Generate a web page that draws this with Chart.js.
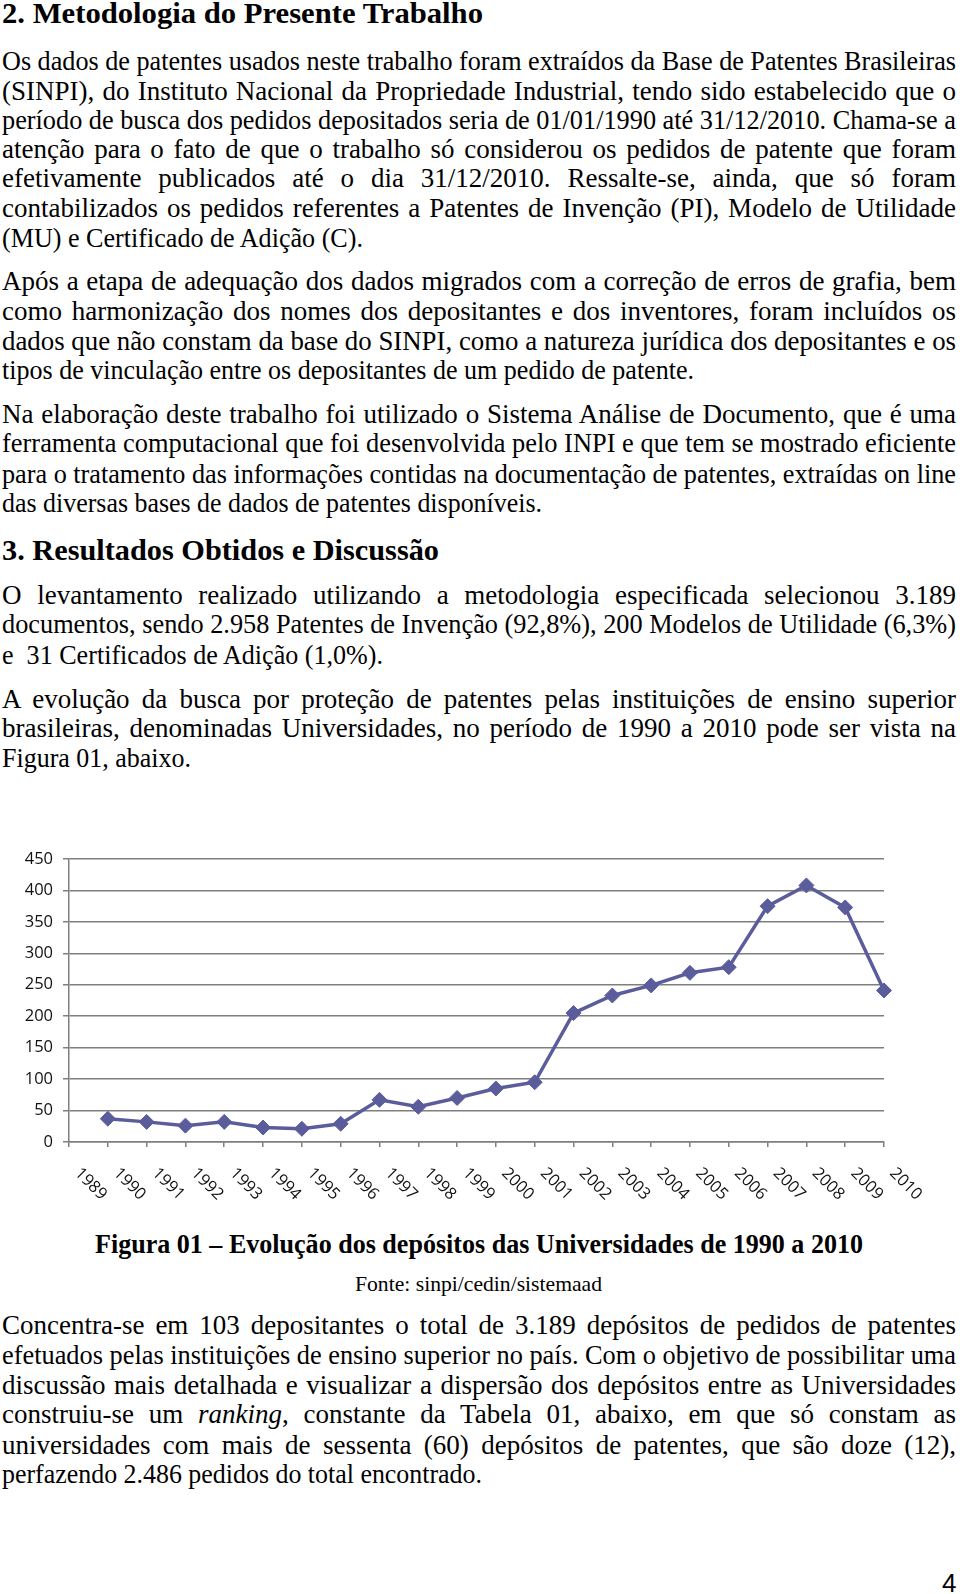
<!DOCTYPE html>
<html>
<head>
<meta charset="utf-8">
<script src="https://cdn.jsdelivr.net/npm/chart.js@4/dist/chart.umd.min.js"></script>
<style>
  html, body { margin: 0; padding: 0; background: #fff; }
  body { position: relative; width: 960px; height: 1594px; overflow: hidden; color: #000; }
  .ln { position: absolute; left: 2px; white-space: nowrap; font-family: "Liberation Serif", "Times New Roman", serif;
        font-size: 27px; line-height: 30px; transform-origin: left top; }
  .j { text-align: justify; text-align-last: justify; }
  .b { font-weight: bold; }
  .h { font-size: 30px; font-weight: bold; }
  .small { font-size: 21px; }
  #pg { position: absolute; left: 942px; top: 1570px; font: 26px/26px "Liberation Sans", Arial, sans-serif; }
  #chartBox { position: absolute; left: 0; top: 830px; width: 960px; height: 390px; }
</style>
</head>
<body>

<div class="ln h" data-y="16" data-w="481">2. Metodologia do Presente Trabalho</div>

<div class="ln j" data-y="64" data-w="954">Os dados de patentes usados neste trabalho foram extraídos da Base de Patentes Brasileiras</div>
<div class="ln j" data-y="94" data-w="954">(SINPI), do Instituto Nacional da Propriedade Industrial, tendo sido estabelecido que o</div>
<div class="ln j" data-y="123" data-w="954">período de busca dos pedidos depositados seria de 01/01/1990 até 31/12/2010. Chama-se a</div>
<div class="ln j" data-y="152" data-w="954">atenção para o fato de que o trabalho só considerou os pedidos de patente que foram</div>
<div class="ln j" data-y="181" data-w="954">efetivamente publicados até o dia 31/12/2010. Ressalte-se, ainda, que só foram</div>
<div class="ln j" data-y="211" data-w="954">contabilizados os pedidos referentes a Patentes de Invenção (PI), Modelo de Utilidade</div>
<div class="ln" data-y="241" data-w="361">(MU) e Certificado de Adição (C).</div>

<div class="ln j" data-y="284" data-w="954">Após a etapa de adequação dos dados migrados com a correção de erros de grafia, bem</div>
<div class="ln j" data-y="314" data-w="954">como harmonização dos nomes dos depositantes e dos inventores, foram incluídos os</div>
<div class="ln j" data-y="344" data-w="954">dados que não constam da base do SINPI, como a natureza jurídica dos depositantes e os</div>
<div class="ln" data-y="373" data-w="692">tipos de vinculação entre os depositantes de um pedido de patente.</div>

<div class="ln j" data-y="417" data-w="954">Na elaboração deste trabalho foi utilizado o Sistema Análise de Documento, que é uma</div>
<div class="ln j" data-y="446" data-w="954">ferramenta computacional que foi desenvolvida pelo INPI e que tem se mostrado eficiente</div>
<div class="ln j" data-y="477" data-w="954">para o tratamento das informações contidas na documentação de patentes, extraídas on line</div>
<div class="ln" data-y="506" data-w="540">das diversas bases de dados de patentes disponíveis.</div>

<div class="ln h" data-y="553" data-w="437">3. Resultados Obtidos e Discussão</div>

<div class="ln j" data-y="598" data-w="954">O levantamento realizado utilizando a metodologia especificada selecionou 3.189</div>
<div class="ln j" data-y="627" data-w="954">documentos, sendo 2.958 Patentes de Invenção (92,8%), 200 Modelos de Utilidade (6,3%)</div>
<div class="ln" data-y="658" data-w="381">e&nbsp; 31 Certificados de Adição (1,0%).</div>

<div class="ln j" data-y="702" data-w="954">A evolução da busca por proteção de patentes pelas instituições de ensino superior</div>
<div class="ln j" data-y="731" data-w="954">brasileiras, denominadas Universidades, no período de 1990 a 2010 pode ser vista na</div>
<div class="ln" data-y="761" data-w="189">Figura 01, abaixo.</div>

<div id="chartBox"><canvas id="evolucao" width="960" height="390"></canvas></div>

<div class="ln b" data-y="1247" data-x="95" data-w="768">Figura 01 – Evolução dos depósitos das Universidades de 1990 a 2010</div>
<div class="ln small" data-y="1286" data-x="355" data-w="247">Fonte: sinpi/cedin/sistemaad</div>

<div class="ln j" data-y="1328" data-w="954">Concentra-se em 103 depositantes o total de 3.189 depósitos de pedidos de patentes</div>
<div class="ln j" data-y="1358" data-w="954">efetuados pelas instituições de ensino superior no país. Com o objetivo de possibilitar uma</div>
<div class="ln j" data-y="1388" data-w="954">discussão mais detalhada e visualizar a dispersão dos depósitos entre as Universidades</div>
<div class="ln j" data-y="1417" data-w="954">construiu-se um <i>ranking</i>, constante da Tabela 01, abaixo, em que só constam as</div>
<div class="ln j" data-y="1448" data-w="954">universidades com mais de sessenta (60) depósitos de patentes, que são doze (12),</div>
<div class="ln" data-y="1477" data-w="480">perfazendo 2.486 pedidos do total encontrado.</div>

<div id="pg">4</div>

<script>
const anos = ['1989', '1990', '1991', '1992', '1993', '1994', '1995', '1996', '1997', '1998', '1999',
              '2000', '2001', '2002', '2003', '2004', '2005', '2006', '2007', '2008', '2009', '2010'];
const depositos = [null, 37, 32, 26, 32, 23, 21, 29, 67, 56, 70,
                   85, 95, 205, 233, 249, 269, 278, 375, 408, 373, 241];
const yMax = 450;
const yPasso = 50;

const corLinha = '#5b5c9b';
const corGrade = '#7f7f7f';

// ajusta cada linha de texto à largura do original
document.querySelectorAll('.ln').forEach(function(el) {
    const alvo = parseFloat(el.dataset.w);
    const fs = parseFloat(getComputedStyle(el).fontSize);
    el.style.top = (parseFloat(el.dataset.y) - (15 + 0.1075 * fs)) + 'px';
    if (el.dataset.x) el.style.left = el.dataset.x + 'px';
    const span = document.createElement('span');
    span.innerHTML = el.innerHTML;
    el.innerHTML = '';
    el.appendChild(span);
    const w = span.getBoundingClientRect().width;
    if (el.classList.contains('j') && w <= alvo) {
        el.style.width = alvo + 'px';
    } else {
        el.style.width = w + 'px';
        el.style.transform = 'scaleX(' + (alvo / w) + ')';
    }
});

// rótulos do eixo x inclinados para baixo, como no Excel
const rotulosInclinados = {
    id: 'rotulosInclinados',
    afterDraw(chart) {
        const ctx = chart.ctx;
        const xs = chart.scales.x;
        const base = chart.scales.y.getPixelForValue(0);
        ctx.save();
        ctx.font = '16.5px "Open Sans"';
        ctx.fillStyle = '#111';
        ctx.textAlign = 'left';
        ctx.textBaseline = 'alphabetic';
        chart.data.labels.forEach(function(rotulo, i) {
            const px = xs.getPixelForTick(i);
            ctx.save();
            ctx.translate(px + 5, base + 32);
            ctx.rotate(Math.PI / 4);
            ctx.fillText(rotulo, 0, 0);
            ctx.restore();
        });
        ctx.restore();
    }
};

const ctx = document.getElementById('evolucao').getContext('2d');
new Chart(ctx, {
    type: 'line',
    data: {
        labels: anos,
        datasets: [{
            label: 'Depósitos',
            data: depositos,
            borderColor: corLinha,
            backgroundColor: corLinha,
            borderWidth: 3.5,
            pointStyle: 'rectRot',
            pointRadius: 7.5,
            pointBorderWidth: 1,
            pointBackgroundColor: corLinha,
            pointBorderColor: corLinha,
            tension: 0,
            clip: false
        }]
    },
    options: {
        responsive: false,
        animation: false,
        layout: {
            padding: { top: 29, right: 76, bottom: 0, left: 0 }
        },
        plugins: {
            legend: { display: false },
            tooltip: { enabled: false }
        },
        scales: {
            x: {
                ticks: { display: false },
                grid: { drawOnChartArea: false, color: corGrade, lineWidth: 1.5, tickLength: 5 },
                border: { color: corGrade, width: 1.5 },
                afterFit(scale) { scale.height = 78; }
            },
            y: {
                min: 0,
                max: yMax,
                ticks: {
                    stepSize: yPasso,
                    padding: 10,
                    color: '#111',
                    font: { family: 'Open Sans', size: 16.5 }
                },
                grid: { color: corGrade, lineWidth: 1.5, tickLength: 6 },
                border: { color: corGrade, width: 1.5 },
                afterFit(scale) { scale.width = 69; }
            }
        }
    },
    plugins: [rotulosInclinados]
});
</script>
</body>
</html>
